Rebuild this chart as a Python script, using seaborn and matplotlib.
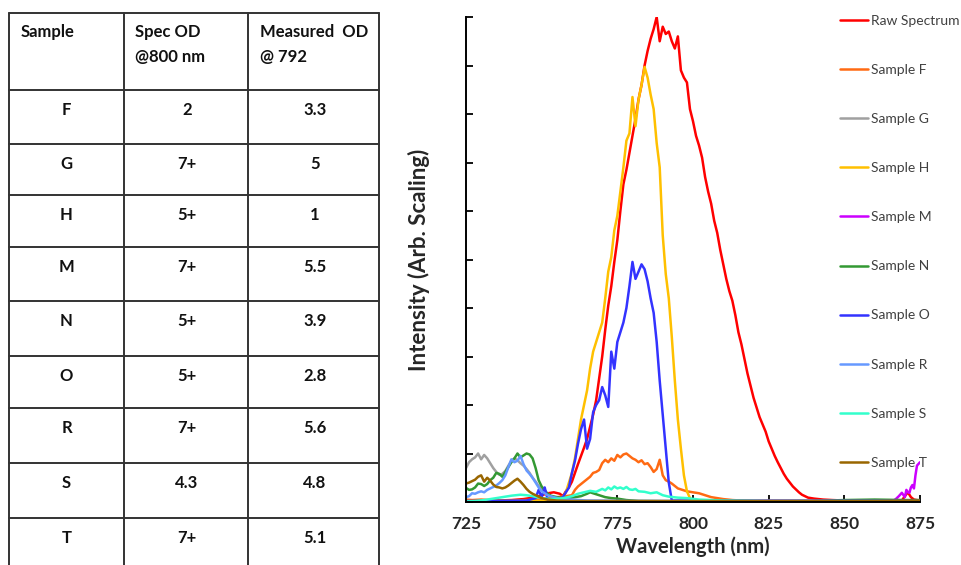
import numpy as np
import pandas as pd
import seaborn as sns
import matplotlib.pyplot as plt

# Table contents
samples = ["F", "G", "H", "M", "N", "O", "R", "S", "T"]
spec_od = ["2", "7+", "5+", "7+", "5+", "5+", "7+", "4.3", "7+"]
measured_od = ["3.3", "5", "1", "5.5", "3.9", "2.8", "5.6", "4.8", "5.1"]

# Spectra: wavelength (nm) and intensity (arb.)
raw_wl = [725, 730, 735, 740, 744, 748, 750, 752, 754, 756, 757, 758, 759, 760,
          761, 762, 763, 764, 765, 766, 767, 768, 769, 770, 771, 772, 773, 774,
          775, 776, 777, 778, 779, 780, 781, 782, 783, 784, 785, 786, 787, 788,
          789, 790, 791, 792, 793, 794, 795, 796, 797, 798, 799, 800, 801, 802,
          803, 804, 805, 806, 807, 808, 809, 810, 811, 812, 813, 814, 815, 816,
          817, 818, 819, 820, 821, 822, 823, 824, 825, 826, 827, 828, 829, 830,
          831, 832, 833, 834, 835, 836, 837, 838, 840, 843, 846, 850, 855, 860,
          865, 869, 870, 871, 872, 873, 875]
raw_int = [0.02, 0.02, 0.03, 0.04, 0.06, 0.1, 0.14, 0.18, 0.2, 0.17, 0.12, 0.22, 0.3, 0.42,
           0.6, 0.78, 0.95, 1.12, 1.3, 1.55, 1.8, 2.1, 2.55, 3.0, 3.55, 4.05, 4.45, 4.95,
           5.4, 6.0, 6.55, 6.85, 7.2, 7.55, 7.9, 8.3, 8.6, 9.0, 9.3, 9.55, 9.75, 10.0,
           9.5, 9.8, 9.65, 9.7, 9.5, 9.35, 9.6, 8.9, 8.75, 8.65, 8.1, 7.85, 7.55, 7.35,
           7.1, 6.7, 6.4, 6.15, 5.8, 5.55, 5.2, 4.9, 4.6, 4.35, 4.15, 3.85, 3.5, 3.25,
           2.95, 2.65, 2.4, 2.15, 1.95, 1.75, 1.6, 1.45, 1.25, 1.1, 0.95, 0.82, 0.7, 0.58,
           0.48, 0.4, 0.32, 0.26, 0.2, 0.15, 0.12, 0.09, 0.07, 0.05, 0.04, 0.03, 0.02, 0.02,
           0.02, 0.03, 0.12, 0.2, 0.1, 0.05, 0.03]

f_wl = [725, 727, 730, 733, 736, 740, 745, 750, 755, 758, 760, 761, 762, 764, 766,
        767, 768, 769, 770, 771, 772, 773, 774, 775, 776, 777, 778, 779, 780, 781,
        782, 783, 784, 785, 786, 787, 788, 789, 790, 791, 792, 793, 794, 795, 796,
        798, 800, 802, 804, 806, 808, 810, 813, 816, 820, 830, 875]
f_int = [0.05, 0.04, 0.05, 0.04, 0.03, 0.03, 0.04, 0.06, 0.1, 0.12, 0.14, 0.25, 0.32, 0.42, 0.52,
         0.6, 0.62, 0.66, 0.8, 0.87, 0.82, 0.9, 0.85, 0.97, 0.92, 0.98, 1.0, 0.95, 0.9, 0.87,
         0.82, 0.86, 0.78, 0.8, 0.72, 0.62, 0.68, 0.87, 0.55, 0.45, 0.42, 0.38, 0.33, 0.28, 0.26,
         0.22, 0.2, 0.18, 0.14, 0.1, 0.08, 0.06, 0.04, 0.03, 0.02, 0.02, 0.02]

g_wl = [725, 726, 727, 728, 729, 730, 731, 732, 733, 734, 735, 736, 737, 738, 739,
        740, 741, 742, 743, 744, 745, 746, 747, 748, 749, 750, 751, 752, 753, 755,
        758, 762, 875]
g_int = [0.7, 0.82, 0.88, 0.92, 1.0, 0.88, 0.97, 0.9, 0.8, 0.7, 0.62, 0.56, 0.58, 0.64, 0.75,
         0.85, 0.9, 0.86, 0.8, 0.75, 0.68, 0.6, 0.5, 0.42, 0.33, 0.27, 0.21, 0.17, 0.12, 0.07,
         0.04, 0.02, 0.02]

h_wl = [725, 755, 756, 757, 758, 759, 760, 761, 762, 763, 764, 765, 766, 767, 768,
        769, 770, 771, 772, 773, 774, 775, 776, 777, 778, 779, 780, 781, 782, 783,
        784, 785, 786, 787, 788, 789, 790, 791, 792, 793, 794, 795, 796, 797, 798,
        799, 800, 810, 875]
h_int = [0.02, 0.02, 0.05, 0.1, 0.2, 0.4, 0.6, 0.9, 1.3, 1.7, 2.0, 2.3, 2.75, 3.1, 3.3,
         3.5, 3.7, 4.2, 4.75, 5.05, 5.6, 5.9, 6.4, 6.9, 7.45, 7.6, 8.35, 7.75, 8.3, 8.6,
         8.97, 8.75, 8.4, 8.1, 7.4, 6.9, 5.5, 4.7, 4.2, 3.4, 2.5, 1.7, 1.1, 0.55, 0.22,
         0.08, 0.03, 0.02, 0.02]

m_wl = [862, 866, 867, 868, 869, 870, 870.5, 871, 871.5, 872, 872.5, 873, 873.5, 874, 875]
m_int = [0.01, 0.02, 0.06, 0.12, 0.19, 0.1, 0.25, 0.2, 0.19, 0.3, 0.35, 0.28, 0.55, 0.75, 0.82]

n_wl = [725, 726, 727, 728, 729, 730, 731, 732, 733, 734, 735, 736, 737, 738, 739,
        740, 741, 742, 743, 744, 745, 746, 747, 748, 749, 750, 751, 752, 753, 755,
        757, 759, 761, 763, 765, 766, 767, 769, 771, 773, 775, 778, 782, 800, 840,
        850, 860, 870, 875]
n_int = [0.29, 0.25, 0.26, 0.3, 0.38, 0.37, 0.33, 0.37, 0.45, 0.5, 0.6, 0.58, 0.52, 0.62, 0.72,
         0.82, 0.9, 1.0, 0.92, 0.96, 1.0, 0.98, 0.9, 0.7, 0.45, 0.32, 0.24, 0.17, 0.13, 0.1,
         0.08, 0.08, 0.1, 0.12, 0.17, 0.2, 0.18, 0.14, 0.1, 0.08, 0.07, 0.04, 0.02, 0.01, 0.02,
         0.04, 0.05, 0.04, 0.04]

o_wl = [725, 745, 748, 749, 750, 751, 752, 754, 756, 757, 758, 759, 760, 761, 762,
        763, 764, 765, 766, 767, 768, 769, 770, 771, 772, 773, 774, 775, 776, 777,
        778, 779, 780, 781, 782, 783, 784, 785, 786, 787, 788, 789, 790, 791, 792,
        793, 875]
o_int = [0.02, 0.03, 0.08, 0.25, 0.1, 0.3, 0.05, 0.05, 0.07, 0.1, 0.2, 0.3, 0.6, 0.85, 1.2,
         1.5, 1.7, 1.1, 1.3, 1.85, 2.0, 2.1, 2.37, 2.2, 1.96, 3.1, 2.75, 3.3, 3.5, 3.7,
         4.0, 4.45, 4.95, 4.6, 4.75, 4.9, 4.8, 4.55, 4.2, 3.9, 3.3, 2.5, 1.8, 1.1, 0.4,
         0.03, 0.02]

r_wl = [725, 726, 727, 728, 729, 730, 731, 732, 733, 734, 735, 736, 737, 738, 739,
        740, 741, 742, 743, 744, 745, 746, 747, 748, 749, 750, 751, 752, 754, 756,
        760, 765, 780, 875]
r_int = [0.1, 0.12, 0.18, 0.17, 0.2, 0.22, 0.2, 0.25, 0.28, 0.31, 0.34, 0.39, 0.45, 0.55, 0.72,
         0.88, 0.82, 0.85, 0.95, 0.78, 0.65, 0.58, 0.5, 0.4, 0.3, 0.22, 0.18, 0.14, 0.1, 0.07,
         0.05, 0.03, 0.02, 0.02]

s_wl = [725, 728, 731, 734, 737, 740, 743, 745, 747, 750, 753, 756, 758, 760, 762,
        764, 766, 768, 770, 771, 772, 773, 774, 775, 776, 777, 778, 779, 780, 781,
        782, 784, 786, 788, 790, 792, 795, 798, 802, 806, 810, 820, 830, 875]
s_int = [0.01, 0.02, 0.04, 0.07, 0.1, 0.13, 0.15, 0.14, 0.12, 0.08, 0.06, 0.07, 0.09, 0.12, 0.17,
         0.2, 0.23, 0.21, 0.27, 0.24, 0.3, 0.26, 0.32, 0.28, 0.3, 0.27, 0.31, 0.26, 0.25, 0.27,
         0.22, 0.21, 0.18, 0.2, 0.14, 0.11, 0.09, 0.08, 0.05, 0.04, 0.03, 0.02, 0.01, 0.01]

t_wl = [725, 726, 727, 728, 729, 730, 731, 732, 733, 734, 735, 736, 737, 738, 739,
        740, 741, 742, 743, 744, 745, 746, 747, 748, 749, 750, 752, 755, 760, 800,
        860, 875]
t_int = [0.38, 0.4, 0.43, 0.46, 0.52, 0.55, 0.42, 0.5, 0.44, 0.36, 0.31, 0.3, 0.28, 0.3, 0.34,
         0.39, 0.44, 0.48, 0.42, 0.35, 0.27, 0.21, 0.17, 0.14, 0.11, 0.08, 0.05, 0.03, 0.02, 0.02,
         0.02, 0.03]

series_names = ["Raw Spectrum", "Sample F", "Sample G", "Sample H", "Sample M",
                "Sample N", "Sample O", "Sample R", "Sample S", "Sample T"]
series_data = [(raw_wl, raw_int), (f_wl, f_int), (g_wl, g_int), (h_wl, h_int),
               (m_wl, m_int), (n_wl, n_int), (o_wl, o_int), (r_wl, r_int),
               (s_wl, s_int), (t_wl, t_int)]
colors = ["#FF0000", "#FF6A13", "#A0A0A0", "#FFC000", "#CC00FF",
          "#339933", "#3333FF", "#6699FF", "#33FFCC", "#996600"]
x_ticks = [725, 750, 775, 800, 825, 850, 875]

frames = []
for name, (wl, inten) in zip(series_names, series_data):
    frames.append(pd.DataFrame({"wl": wl, "intensity": inten, "series": name}))
df = pd.concat(frames, ignore_index=True)

sns.set_style("ticks")
plt.rcParams['font.family'] = ['Lato', 'DejaVu Sans']

W, H = 961, 565
fig = plt.figure(figsize=(W / 100, H / 100), dpi=100)

# --- table on the left, drawn in pixel coordinates ---
tab = fig.add_axes([0, 0, 1, 1])
tab.set_xlim(0, W)
tab.set_ylim(H, 0)
tab.axis("off")
col_x = [9, 124, 248, 379]
row_y = [13, 90, 144, 195, 247, 301, 356, 408, 463, 518, 575]
line_c = "#333333"
for x in col_x:
    tab.plot([x, x], [row_y[0], H + 5], color=line_c, lw=1.4, clip_on=False)
for y in row_y:
    tab.plot([col_x[0], col_x[-1]], [y, y], color=line_c, lw=1.4)

tfs = 12
tcol = "#111111"
tab.text(21, 37, "Sample", fontsize=tfs, fontweight="bold", color=tcol)
tab.text(135, 37, "Spec OD", fontsize=tfs, fontweight="bold", color=tcol)
tab.text(135, 62, "@800 nm", fontsize=tfs, fontweight="bold", color=tcol)
tab.text(260, 37, "Measured  OD", fontsize=tfs, fontweight="bold", color=tcol)
tab.text(260, 62, "@ 792", fontsize=tfs, fontweight="bold", color=tcol)
centers = [66.5, 187, 315]
for i, (s, sp, me) in enumerate(zip(samples, spec_od, measured_od)):
    yb = row_y[i + 1] + 25
    for cx, txt in zip(centers, [s, sp, me]):
        tab.text(cx, yb, txt, fontsize=tfs, fontweight="bold", ha="center", color=tcol)

# --- spectra chart ---
ax = fig.add_axes([466 / W, 63 / H, 454 / W, 485 / H])
sns.lineplot(data=df, x="wl", y="intensity", hue="series", hue_order=series_names,
             palette=dict(zip(series_names, colors)), estimator=None,
             linewidth=1.8, ax=ax, legend=True)
ax.set_xlim(725, 875)
ax.set_ylim(0, 10)
ax.set_xticks(x_ticks)
ax.set_yticks(range(0, 11))
ax.tick_params(axis="both", direction="in", length=5, width=1.3, color="black")
ax.tick_params(axis="y", labelleft=False)
ax.tick_params(axis="x", pad=10, labelsize=12.5)
for lab in ax.get_xticklabels():
    lab.set_fontweight("bold")
sns.despine(ax=ax)
for sp in ["left", "bottom"]:
    ax.spines[sp].set_linewidth(1.4)
    ax.spines[sp].set_color("black")
ax.set_xlabel("Wavelength (nm)", fontsize=14.5, fontweight="bold", labelpad=3)
ax.set_ylabel("Intensity (Arb. Scaling)", fontsize=16, fontweight="bold", labelpad=26)

handles, labels = ax.get_legend_handles_labels()
ax.legend(handles, labels, loc="upper left", bbox_to_anchor=(840 / W, 1 - 15 / H),
          bbox_transform=fig.transFigure, frameon=False, fontsize=10,
          handlelength=2.0, handletextpad=0.2, labelspacing=2.67, borderpad=0,
          borderaxespad=0, labelcolor="#404040")

fig.savefig("out.png", dpi=100)
